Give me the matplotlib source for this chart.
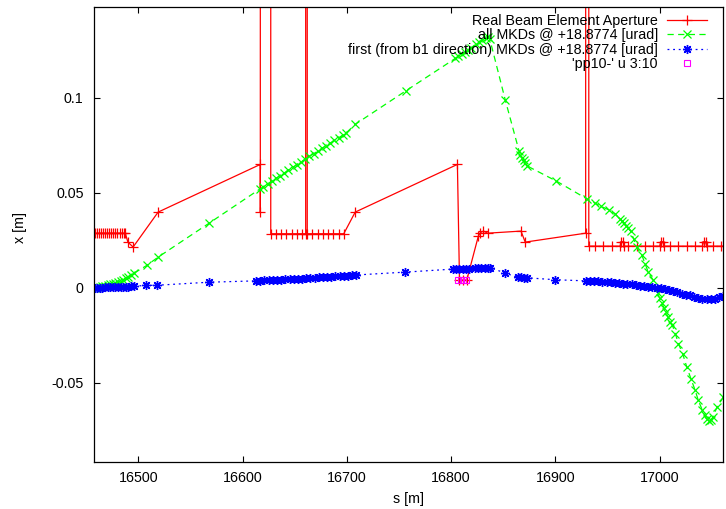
import matplotlib
matplotlib.use("Agg")
import matplotlib.pyplot as plt

plt.rcParams['font.family'] = ['Liberation Sans', 'DejaVu Sans']
plt.rcParams['axes.unicode_minus'] = False

# aperture (values of 1.0 are far off the top of the frame)
red_s = [16458, 16460, 16462, 16464, 16466, 16468, 16470, 16472, 16474, 16476,
         16478, 16480, 16482, 16484, 16486, 16487.5, 16490, 16495, 16519,
         16617, 16617, 16617, 16627, 16627, 16632, 16637, 16642, 16647, 16652,
         16657, 16660.5, 16660.5, 16662, 16662, 16667, 16672, 16677, 16682,
         16687, 16692, 16697, 16708, 16806, 16808, 16811, 16815, 16826, 16828,
         16831, 16835, 16867, 16871, 16929, 16929, 16932, 16932, 16938, 16946,
         16954, 16962, 16963, 16965, 16966, 16970, 16978, 16986, 16994, 17000,
         17001, 17003, 17004, 17010, 17018, 17026, 17034, 17041, 17042, 17044,
         17045, 17051, 17059, 17062]
red_x = [0.0287, 0.0287, 0.0287, 0.0287, 0.0287, 0.0287, 0.0287, 0.0287, 0.0287, 0.0287,
         0.0287, 0.0287, 0.0287, 0.0287, 0.0287, 0.0287, 0.0240, 0.0214, 0.0398,
         0.0649, 0.0398, 1.0, 1.0, 0.0284, 0.0284, 0.0284, 0.0284, 0.0284, 0.0284,
         0.0284, 0.0284, 1.0, 1.0, 0.0284, 0.0284, 0.0284, 0.0284, 0.0284,
         0.0284, 0.0284, 0.0284, 0.0398, 0.0649, 0.0040, 0.0040, 0.0040, 0.0270, 0.0290,
         0.0298, 0.0287, 0.0298, 0.0240, 0.0287, 1.0, 1.0, 0.0219, 0.0219, 0.0219,
         0.0219, 0.0219, 0.0242, 0.0242, 0.0219, 0.0219, 0.0219, 0.0219, 0.0219, 0.0219,
         0.0242, 0.0242, 0.0219, 0.0219, 0.0219, 0.0219, 0.0219, 0.0219, 0.0242, 0.0242,
         0.0219, 0.0219, 0.0219, 0.0219]

# all MKDs
green_s = [16458, 16460.5, 16463, 16465.5, 16468, 16470.5, 16473, 16475.5, 16478,
           16480.5, 16483, 16485.5, 16488, 16490.5, 16493, 16495.5, 16508, 16519,
           16568, 16617, 16620, 16624, 16628, 16632, 16636, 16640, 16644, 16648,
           16652, 16656, 16660, 16664, 16668, 16672, 16676, 16680, 16684, 16688,
           16692, 16696, 16699, 16708, 16757, 16804, 16807, 16810, 16813, 16816,
           16819, 16824, 16827, 16830, 16833, 16835, 16837, 16852, 16865, 16866.5,
           16868, 16869.5, 16871, 16872.5, 16901, 16930, 16938, 16944, 16951, 16957,
           16962, 16964, 16966, 16968, 16970, 16972, 16975, 16978, 16983, 16986,
           16989, 16994, 16998, 17000, 17002, 17004, 17006, 17008, 17010, 17012,
           17015, 17018, 17022, 17026, 17030, 17034, 17037, 17041, 17043, 17045,
           17047, 17049, 17051, 17055, 17061]
green_x = [0.0001, 0.0003, 0.0005, 0.0007, 0.0010, 0.0013, 0.0017, 0.0021, 0.0026,
           0.0031, 0.0037, 0.0043, 0.0050, 0.0058, 0.0066, 0.0075, 0.0117, 0.0161,
           0.0340, 0.0521, 0.0532, 0.0547, 0.0561, 0.0575, 0.0590, 0.0604, 0.0619, 0.0633,
           0.0648, 0.0662, 0.0677, 0.0691, 0.0705, 0.0719, 0.0733, 0.0747, 0.0761, 0.0775,
           0.0789, 0.0803, 0.0813, 0.0860, 0.1038, 0.1207, 0.1218, 0.1229, 0.1240, 0.1251,
           0.1262, 0.1284, 0.1295, 0.1306, 0.1316, 0.1322, 0.1310, 0.0986, 0.0722, 0.0700,
           0.0685, 0.0670, 0.0655, 0.0642, 0.0561, 0.0468, 0.0445, 0.0428, 0.0410, 0.0390,
           0.0363, 0.0352, 0.0340, 0.0327, 0.0313, 0.0298, 0.0258, 0.0212, 0.0170, 0.0126,
           0.0082, 0.0038, -0.0030, -0.0055, -0.0080, -0.0105, -0.0130, -0.0155, -0.0178, -0.0195,
           -0.0242, -0.0295, -0.0347, -0.0418, -0.0480, -0.0540, -0.0593, -0.0646, -0.0672, -0.0690,
           -0.0700, -0.0698, -0.0680, -0.0628, -0.0576]

# first (from b1 direction) MKDs
blue_s = [16458, 16460.5, 16463, 16465.5, 16468, 16470.5, 16473, 16475.5, 16478,
          16480.5, 16483, 16485.5, 16488, 16490.5, 16493, 16495.5, 16507, 16518, 16568,
          16613, 16617, 16621, 16625, 16629, 16633, 16637, 16641, 16645, 16649, 16653,
          16657, 16661, 16665, 16669, 16673, 16677, 16681, 16685, 16689, 16693, 16697,
          16701, 16705, 16709, 16756, 16802, 16805, 16808, 16811, 16814, 16817, 16823,
          16826, 16829, 16832, 16835, 16837, 16852, 16864, 16867, 16870, 16873, 16900,
          16929, 16933, 16937, 16941, 16945, 16949, 16953, 16957, 16961, 16965, 16969,
          16973, 16977, 16981, 16985, 16989, 16993, 16997, 17001, 17005, 17009, 17013,
          17017, 17021, 17025, 17029, 17033, 17037, 17041, 17045, 17049, 17053, 17057, 17061]
blue_x = [0.0000, 0.0000, 0.0001, 0.0001, 0.0002, 0.0002, 0.0003, 0.0003, 0.0004,
          0.0004, 0.0005, 0.0005, 0.0006, 0.0006, 0.0007, 0.0008, 0.0012, 0.0013, 0.0029,
          0.0036, 0.0037, 0.0038, 0.0039, 0.0040, 0.0041, 0.0043, 0.0044, 0.0045, 0.0046, 0.0047,
          0.0048, 0.0050, 0.0051, 0.0052, 0.0054, 0.0055, 0.0057, 0.0058, 0.0060, 0.0061, 0.0063,
          0.0064, 0.0066, 0.0067, 0.0082, 0.0098, 0.0099, 0.0100, 0.0100, 0.0101, 0.0101, 0.0104,
          0.0105, 0.0105, 0.0106, 0.0106, 0.0106, 0.0077, 0.0054, 0.0054, 0.0053, 0.0052, 0.0042,
          0.0036, 0.0035, 0.0034, 0.0033, 0.0031, 0.0030, 0.0028, 0.0026, 0.0024, 0.0022, 0.0020,
          0.0017, 0.0014, 0.0011, 0.0008, 0.0005, 0.0002, -0.0001, -0.0004, -0.0008, -0.0013, -0.0019,
          -0.0025, -0.0031, -0.0036, -0.0041, -0.0047, -0.0053, -0.0058, -0.0061, -0.0061, -0.0057, -0.0051, -0.0046]

# 'pp10-' u 3:10
pp_s = [16807, 16809.3, 16811.6, 16813.9]
pp_x = [0.0038, 0.0038, 0.0038, 0.0038]

labels = ["Real Beam Element Aperture",
          "all MKDs @ +18.8774 [urad]",
          "first (from b1 direction) MKDs @ +18.8774 [urad]",
          "'pp10-' u 3:10"]

fs = 10.3
fig = plt.figure(figsize=(7.26, 5.09), dpi=100)
ax = fig.add_axes([94 / 726, 1 - 462.3 / 509, 629 / 726, 455 / 509])

ax.plot(red_s, red_x, color='#ff0000', lw=0.9, marker='+', ms=6.5, mew=0.9, label=labels[0])
ax.plot(green_s, green_x, color='#00ff00', lw=0.9, dashes=(5, 3.5), marker='x', ms=5.5, mew=0.9,
        label=labels[1])
ax.plot(blue_s, blue_x, color='#0000ff', lw=0.9, dashes=(1.5, 3), marker=(8, 2, 0), ms=6.5,
        mew=1.0, label=labels[2])
ax.plot(pp_s, pp_x, ls='none', marker='s', ms=5, mfc='none', mec='#ff00ff', mew=0.8,
        label=labels[3])

ax.set_xlim(16457.5, 17060.7)
ax.set_ylim(-0.0919, 0.1476)
ax.set_xticks([16500, 16600, 16700, 16800, 16900, 17000])
ax.set_yticks([-0.05, 0, 0.05, 0.1])
ax.set_yticklabels(['-0.05', '0', '0.05', '0.1'])
ax.tick_params(direction='in', length=4.3, width=0.8, top=True, right=True,
               labelsize=fs, colors='black')
ax.tick_params(axis='x', pad=6)
ax.tick_params(axis='y', pad=7.5)
for sp in ax.spines.values():
    sp.set_linewidth(0.9)

ax.set_xlabel('s [m]', fontsize=fs)
ax.set_ylabel('x [m]', fontsize=fs)
ax.xaxis.set_label_coords(0.5, -0.065)
ax.yaxis.set_label_coords(-0.1065, 0.517)

ax.legend(loc='upper right', bbox_to_anchor=(0.9746, 0.985), frameon=False,
          markerfirst=False, fontsize=fs, handlelength=2.8, handletextpad=0.63,
          labelspacing=0.02, borderpad=0, borderaxespad=0)

fig.savefig('out.png', dpi=100)
